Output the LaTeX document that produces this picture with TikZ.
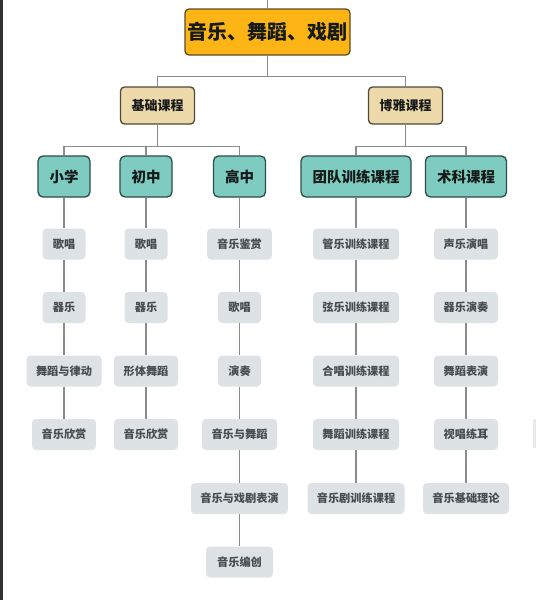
\documentclass[tikz,border=0pt]{standalone}
\usepackage{fontspec}
\setmainfont{Noto Sans CJK SC}
\begin{document}
\begin{tikzpicture}[x=1pt,y=-1pt,
  conn/.style={draw=linegray,line width=1.4pt},
  rootbox/.style={draw=rootbd,fill=rootfill,line width=1.3pt,rounded corners=4pt,inner sep=0pt,minimum width=165pt,minimum height=46pt,font=\fontsize{20}{24}\selectfont\bfseries,text=txtdark},
  midbox/.style={draw=midbd,fill=midfill,line width=1.3pt,rounded corners=4pt,inner sep=0pt,minimum width=74pt,minimum height=37pt,font=\fontsize{13}{16}\selectfont\bfseries,text=txtdark},
  catbox/.style={draw=catbd,fill=catfill,line width=1.3pt,rounded corners=5pt,inner sep=0pt,minimum height=41pt,font=\fontsize{14.5}{18}\selectfont\bfseries,text=txtdark},
  leaf/.style={fill=leaffill,rounded corners=4pt,inner sep=0pt,minimum height=31pt,font=\fontsize{11.2}{13}\selectfont\bfseries,text=leaftxt},
]
\definecolor{linegray}{HTML}{8A8A8A}
\definecolor{rootfill}{HTML}{FDB515}
\definecolor{rootbd}{HTML}{5C4A26}
\definecolor{midfill}{HTML}{EDD9A9}
\definecolor{midbd}{HTML}{4E4A3E}
\definecolor{catfill}{HTML}{7ECBBF}
\definecolor{catbd}{HTML}{2E4E4A}
\definecolor{leaffill}{HTML}{DDE2E4}
\definecolor{leaftxt}{HTML}{454D52}
\definecolor{txtdark}{HTML}{161A1A}
\useasboundingbox (0,0) rectangle (536,600);
\fill[white] (0,0) rectangle (536,600);
\fill[black!80] (0,0) rectangle (2.5,600);
\fill[leaffill!70] (533,419) rectangle (536,448);

\node[rootbox] (root) at (267.5,32) {音乐、舞蹈、戏剧};
\node[midbox] (jc) at (157.5,105.5) {基础课程};
\node[midbox] (by) at (405.5,105.5) {博雅课程};

\node[catbox,minimum width=52pt] (xx) at (64,176.5) {小学};
\node[catbox,minimum width=52pt] (cz) at (146,176.5) {初中};
\node[catbox,minimum width=52pt] (gz) at (239.5,176.5) {高中};
\node[catbox,minimum width=110pt] (td) at (356,176.5) {团队训练课程};
\node[catbox,minimum width=81pt] (sk) at (466,176.5) {术科课程};

% column 1
\node[leaf,minimum width=43pt] (a1) at (64,244) {歌唱};
\node[leaf,minimum width=43pt] (a2) at (64,307.5) {器乐};
\node[leaf,minimum width=75pt] (a3) at (64,371) {舞蹈与律动};
\node[leaf,minimum width=64pt] (a4) at (64,434.5) {音乐欣赏};
% column 2
\node[leaf,minimum width=43pt] (b1) at (146,244) {歌唱};
\node[leaf,minimum width=43pt] (b2) at (146,307.5) {器乐};
\node[leaf,minimum width=64pt] (b3) at (146,371) {形体舞蹈};
\node[leaf,minimum width=64pt] (b4) at (146,434.5) {音乐欣赏};
% column 3
\node[leaf,minimum width=65pt] (c1) at (239.5,244) {音乐鉴赏};
\node[leaf,minimum width=43pt] (c2) at (239.5,307.5) {歌唱};
\node[leaf,minimum width=43pt] (c3) at (239.5,371) {演奏};
\node[leaf,minimum width=75pt] (c4) at (239.5,434.5) {音乐与舞蹈};
\node[leaf,minimum width=97pt] (c5) at (239.5,498.5) {音乐与戏剧表演};
\node[leaf,minimum width=67pt] (c6) at (239.5,562) {音乐编创};
% column 4
\node[leaf,minimum width=86pt] (d1) at (356,244) {管乐训练课程};
\node[leaf,minimum width=86pt] (d2) at (356,307.5) {弦乐训练课程};
\node[leaf,minimum width=86pt] (d3) at (356,371) {合唱训练课程};
\node[leaf,minimum width=86pt] (d4) at (356,434.5) {舞蹈训练课程};
\node[leaf,minimum width=97pt] (d5) at (356,498.5) {音乐剧训练课程};
% column 5
\node[leaf,minimum width=64pt] (e1) at (466,244) {声乐演唱};
\node[leaf,minimum width=64pt] (e2) at (466,307.5) {器乐演奏};
\node[leaf,minimum width=64pt] (e3) at (466,371) {舞蹈表演};
\node[leaf,minimum width=64pt] (e4) at (466,434.5) {视唱练耳};
\node[leaf,minimum width=86pt] (e5) at (466,498.5) {音乐基础理论};

% connectors
\draw[conn] (root.north) -- ++(0,-9);
\draw[conn] (root.south) -- ++(0,21) -| (jc.north);
\draw[conn] (root.south) -- ++(0,21) -| (by.north);
\draw[conn] (jc.south) -- ++(0,22) -| (xx.north);
\draw[conn] (jc.south) -- ++(0,22) -| (cz.north);
\draw[conn] (jc.south) -- ++(0,22) -| (gz.north);
\draw[conn] (by.south) -- ++(0,22) -| (td.north);
\draw[conn] (by.south) -- ++(0,22) -| (sk.north);

\draw[conn] (xx.south) -- (a1.north);
\draw[conn] (a1.south) -- (a2.north);
\draw[conn] (a2.south) -- (a3.north);
\draw[conn] (a3.south) -- (a4.north);
\draw[conn] (cz.south) -- (b1.north);
\draw[conn] (b1.south) -- (b2.north);
\draw[conn] (b2.south) -- (b3.north);
\draw[conn] (b3.south) -- (b4.north);
\draw[conn] (gz.south) -- (c1.north);
\draw[conn] (c1.south) -- (c2.north);
\draw[conn] (c2.south) -- (c3.north);
\draw[conn] (c3.south) -- (c4.north);
\draw[conn] (c4.south) -- (c5.north);
\draw[conn] (c5.south) -- (c6.north);
\draw[conn] (td.south) -- (d1.north);
\draw[conn] (d1.south) -- (d2.north);
\draw[conn] (d2.south) -- (d3.north);
\draw[conn] (d3.south) -- (d4.north);
\draw[conn] (d4.south) -- (d5.north);
\draw[conn] (sk.south) -- (e1.north);
\draw[conn] (e1.south) -- (e2.north);
\draw[conn] (e2.south) -- (e3.north);
\draw[conn] (e3.south) -- (e4.north);
\draw[conn] (e4.south) -- (e5.north);
\end{tikzpicture}
\end{document}
